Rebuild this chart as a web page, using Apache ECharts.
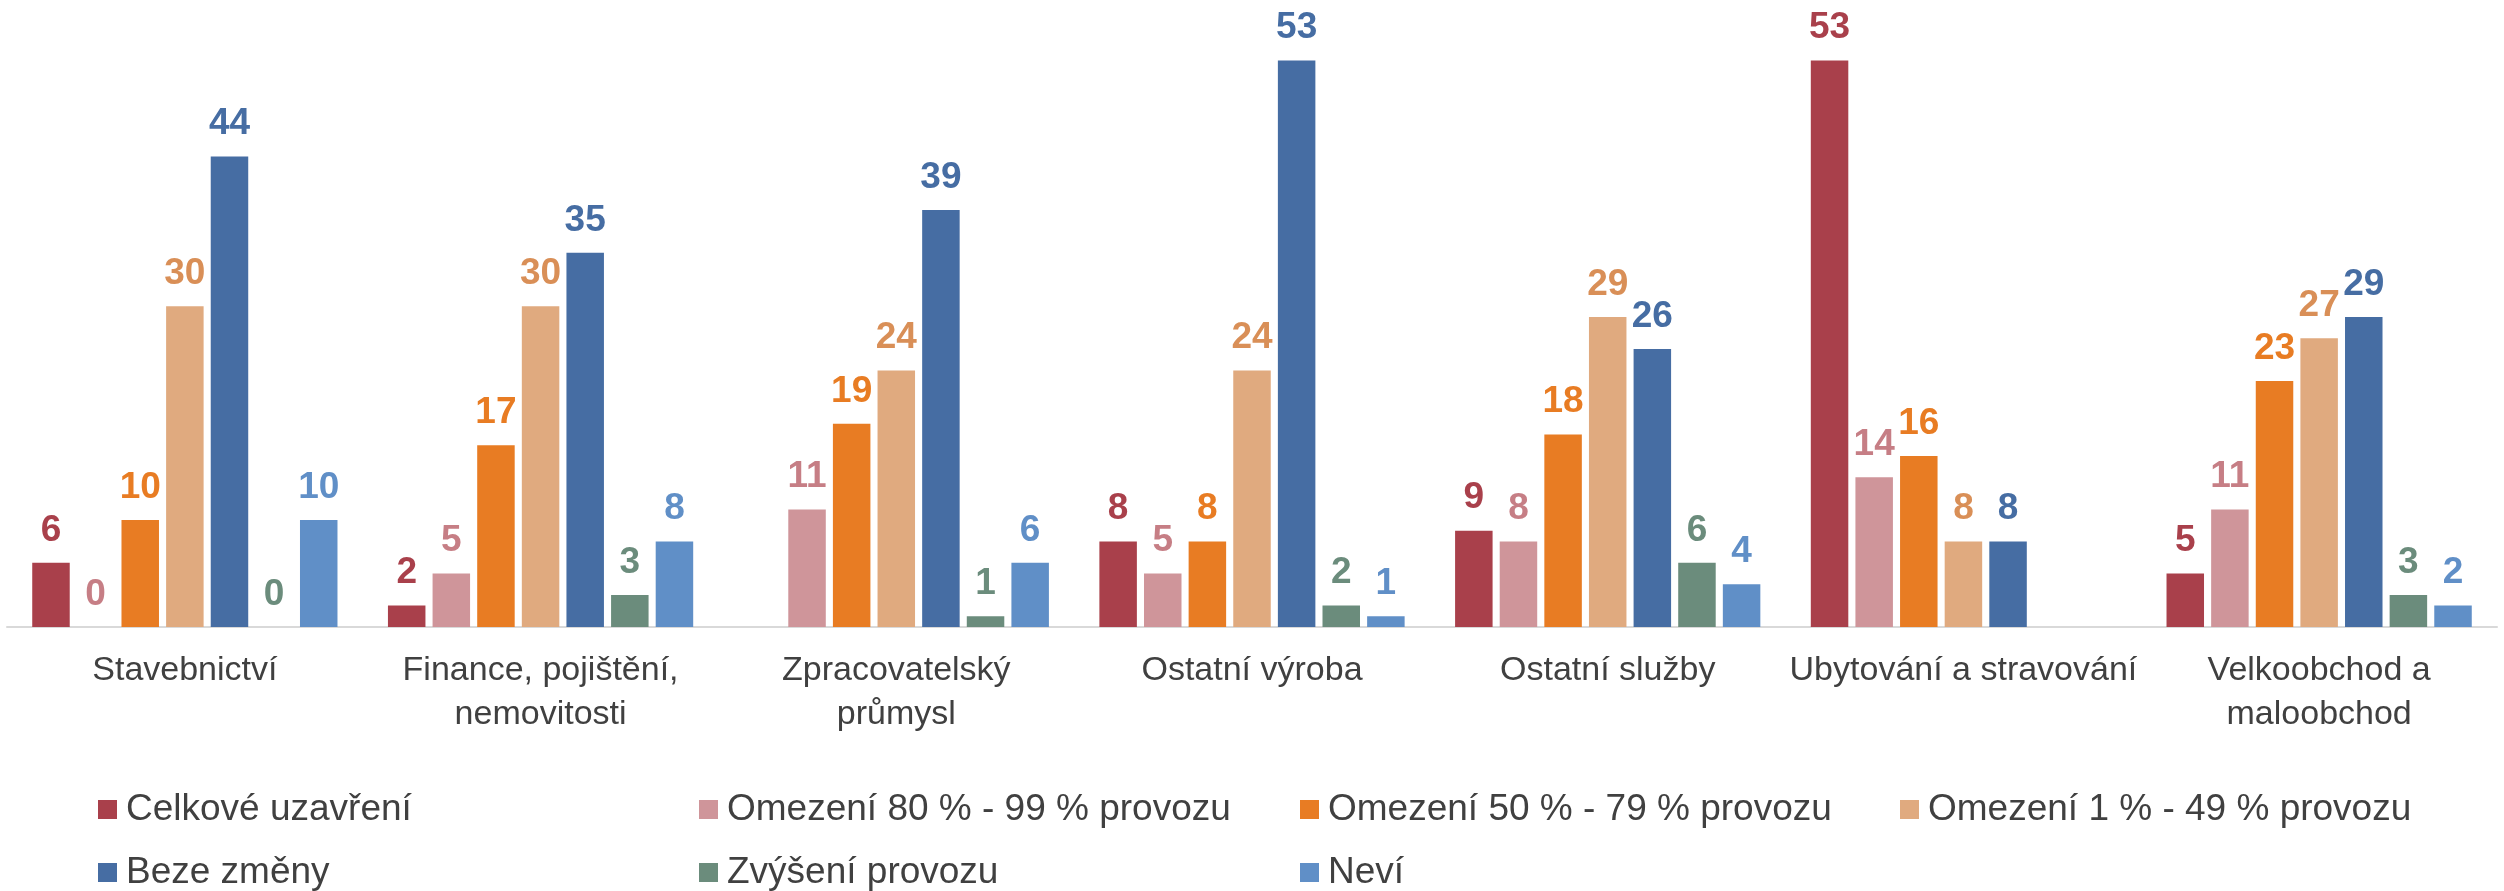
<!DOCTYPE html>
<html>
<head>
<meta charset="utf-8">
<script src="https://cdn.jsdelivr.net/npm/echarts@6/dist/echarts.min.js"></script>
<style>
html,body{margin:0;padding:0;background:#fff;}
#chart{width:2504px;height:891px;}
</style>
</head>
<body>
<div id="chart"></div>
<script>
const categories = ["Stavebnictví", "Finance, pojištění,\nnemovitosti", "Zpracovatelský\nprůmysl", "Ostatní výroba", "Ostatní služby", "Ubytování a stravování", "Velkoobchod a\nmaloobchod"];
const seriesNames = ["Celkové uzavření", "Omezení 80 % - 99 % provozu", "Omezení 50 % - 79 % provozu", "Omezení 1 % - 49 % provozu", "Beze změny", "Zvýšení provozu", "Neví"];
const celkoveUzavreni = [6, 2, null, 8, 9, 53, 5];
const omezeni80_99 = [0, 5, 11, 5, 8, 14, 11];
const omezeni50_79 = [10, 17, 19, 8, 18, 16, 23];
const omezeni1_49 = [30, 30, 24, 24, 29, 8, 27];
const bezeZmeny = [44, 35, 39, 53, 26, 8, 29];
const zvyseniProvozu = [0, 3, 1, 2, 6, null, 3];
const nevi = [10, 8, 6, 1, 4, null, 2];

const seriesData = [celkoveUzavreni, omezeni80_99, omezeni50_79, omezeni1_49, bezeZmeny, zvyseniProvozu, nevi];
const barColors = ["#A9404B", "#CF959A", "#E87C23", "#E0AA7F", "#466DA3", "#6B8C7C", "#608FC7"];
const labelColors = ["#A9404B", "#C67E85", "#E87C23", "#D98F57", "#466DA3", "#6B8C7C", "#608FC7"];

const FONT = "'Liberation Sans', Arial, sans-serif";

const legendPos = [
  [98, 791], [699, 791], [1300, 791], [1900, 791],
  [98, 854], [699, 854], [1300, 854]
];

const chart = echarts.init(document.getElementById('chart'), null, {renderer: 'canvas'});
const option = {
  backgroundColor: '#ffffff',
  animation: false,
  textStyle: {fontFamily: FONT},
  grid: {left: 7, right: 7, top: 39, bottom: 264, containLabel: false},
  legend: seriesNames.map((n, i) => ({
    data: [n],
    left: legendPos[i][0],
    top: legendPos[i][1],
    icon: 'rect',
    itemWidth: 19,
    itemHeight: 19,
    padding: 0,
    textStyle: {fontSize: 37, color: '#404040', fontFamily: FONT, padding: [0, 0, 0, 4]}
  })),
  xAxis: {
    type: 'category',
    data: categories,
    axisLine: {show: true, lineStyle: {color: '#D9D9D9', width: 2}},
    axisTick: {show: false},
    axisLabel: {fontSize: 34, color: '#404040', fontFamily: FONT, margin: 22, lineHeight: 44, interval: 0}
  },
  yAxis: {
    type: 'value',
    min: 0,
    max: 55,
    show: false,
    splitLine: {show: false}
  },
  series: seriesNames.map((n, i) => ({
    name: n,
    type: 'bar',
    data: seriesData[i],
    barWidth: 37.5,
    barGap: '19%',
    itemStyle: {color: barColors[i]},
    label: {
      show: true,
      position: 'top',
      distance: 14,
      fontSize: 37,
      fontWeight: 'bold',
      color: labelColors[i],
      fontFamily: FONT
    }
  }))
};
chart.setOption(option);
</script>
</body>
</html>
